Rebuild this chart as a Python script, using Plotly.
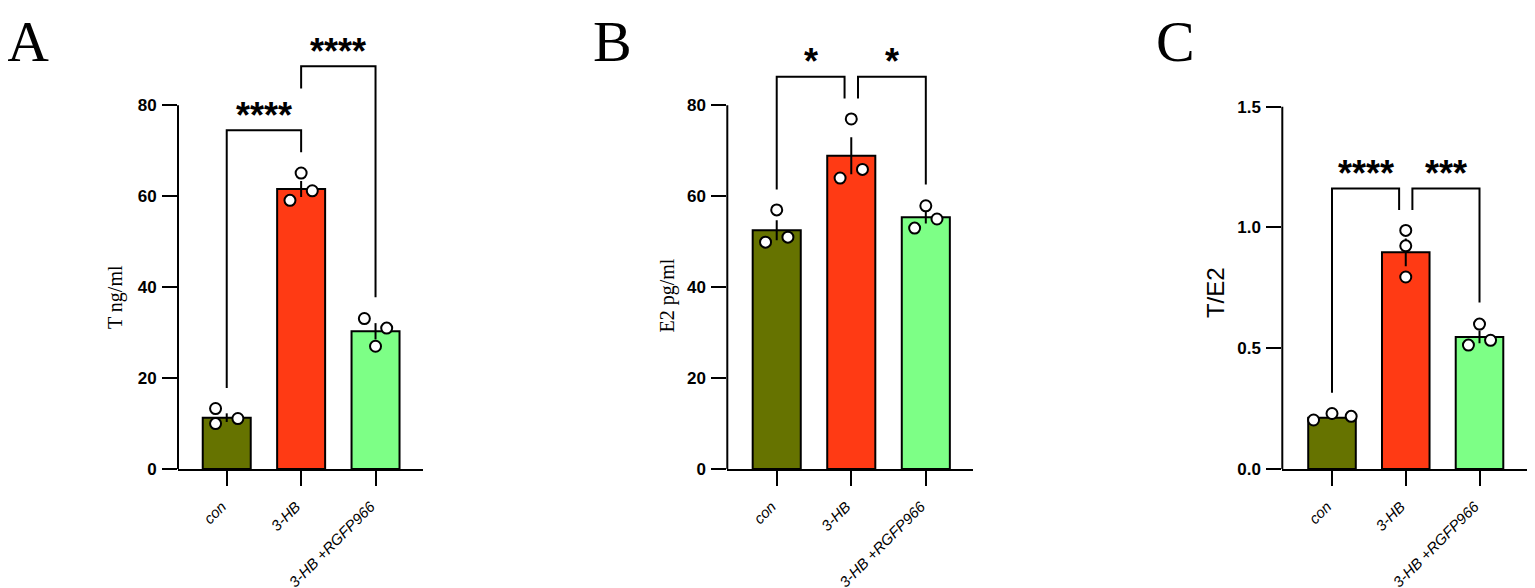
import plotly.graph_objects as go

# the page body shifts the figure 8 px to the right; compensate horizontally
XOFF = 8
W, H = 1535 - XOFF, 588

# ---------------- data ----------------
groups = ["con", "3-HB", "3-HB +RGFP966"]
bar_colors = ["#667300", "#FF3A14", "#7DFF86"]

# Panel A : T ng/ml
a_means = [11.3, 61.6, 30.3]
a_sem = [0.95, 1.76, 1.79]
a_points = [[13.3, 10.0, 11.1], [65.1, 59.1, 61.2], [33.1, 27.0, 31.0]]
a_brackets = [([0, 0, 1, 1], [17.8, 74.5, 74.5, 69.7], "****"),
              ([1, 1, 2, 2], [83.7, 88.6, 88.6, 37.8], "****")]
a_ticks = [0, 20, 40, 60, 80]

# Panel B : E2 pg/ml
b_means = [52.5, 68.9, 55.4]
b_sem = [2.2, 4.05, 1.42]
b_points = [[57.0, 49.9, 51.0], [77.0, 64.0, 65.9], [57.9, 53.0, 55.0]]
b_brackets = [([0, 0, 0.91, 0.91], [61.5, 86.3, 86.3, 81.5], "*"),
              ([1.09, 1.09, 2, 2], [81.5, 86.3, 86.3, 62.6], "*")]
b_ticks = [0, 20, 40, 60, 80]

# Panel C : T/E2
c_means = [0.212, 0.897, 0.547]
c_sem = [0.008, 0.057, 0.026]
c_points = [[0.203, 0.230, 0.218], [0.988, 0.924, 0.795], [0.600, 0.513, 0.533]]
c_brackets = [([0, 0, 0.91, 0.91], [0.316, 1.161, 1.161, 1.072], "****"),
              ([1.09, 1.09, 2, 2], [1.072, 1.161, 1.161, 0.689], "***")]
c_ticks = [0.0, 0.5, 1.0, 1.5]
c_ticktext = ["0.0", "0.5", "1.0", "1.5"]

# horizontal jitter of the dots (layout only)
a_jit = [[-0.15, -0.15, 0.15], [0.0, -0.15, 0.15], [-0.15, 0.0, 0.15]]
b_jit = [[0.0, -0.15, 0.15], [0.0, -0.15, 0.15], [0.0, -0.15, 0.15]]
c_jit = [[-0.25, 0.0, 0.26], [0.0, 0.0, 0.0], [0.0, -0.15, 0.15]]


def px_x(p):
    return (p - XOFF) / W


def px_y(p):
    return 1 - p / H


panels = [
    dict(means=a_means, sem=a_sem, pts=a_points, jit=a_jit, br=a_brackets,
         ticks=a_ticks, ticktext=[str(t) for t in a_ticks], yr=[0, 96.0],
         xdom=[178, 423], xr=[-0.655, 2.638], title="T ng/ml", tfont="serif",
         tx=115, ty=294, tsize=20, letter="A", lx=28),
    dict(means=b_means, sem=b_sem, pts=b_points, jit=b_jit, br=b_brackets,
         ticks=b_ticks, ticktext=[str(t) for t in b_ticks], yr=[0, 96.0],
         xdom=[727.3, 973], xr=[-0.663, 2.633], title="E2 pg/ml", tfont="serif",
         tx=667.5, ty=293, tsize=20, letter="B", lx=612),
    dict(means=c_means, sem=c_sem, pts=c_points, jit=c_jit, br=c_brackets,
         ticks=c_ticks, ticktext=c_ticktext, yr=[0, 1.807],
         xdom=[1282.3, 1527], xr=[-0.674, 2.644], title="T/E2", tfont="sans",
         tx=1215, ty=290, tsize=24, letter="C", lx=1175),
]

SANS = "Arial, Liberation Sans, sans-serif"
SERIF = "Times New Roman, Liberation Serif, serif"

fig = go.Figure()
layout = dict(
    width=W, height=H, margin=dict(l=0, r=0, t=0, b=0),
    paper_bgcolor="white", plot_bgcolor="white", showlegend=False,
    shapes=[], annotations=[],
)

ydom = [px_y(469), px_y(25)]

for i, p in enumerate(panels):
    k = "" if i == 0 else str(i + 1)
    xa, ya = "x" + k, "y" + k
    xs = list(range(len(groups)))
    fig.add_trace(go.Bar(
        x=xs, y=p["means"], width=0.645, xaxis=xa, yaxis=ya,
        marker=dict(color=bar_colors, line=dict(color="black", width=2)),
        error_y=dict(type="data", array=p["sem"], visible=True, color="black",
                     thickness=2, width=0),
        hoverinfo="skip",
    ))
    dx, dy = [], []
    for g, (vals, jit) in enumerate(zip(p["pts"], p["jit"])):
        for v, j in zip(vals, jit):
            dx.append(g + j)
            dy.append(v)
    fig.add_trace(go.Scatter(
        x=dx, y=dy, mode="markers", xaxis=xa, yaxis=ya,
        marker=dict(symbol="circle", size=11, color="white",
                    line=dict(color="black", width=2)),
        cliponaxis=False, hoverinfo="skip",
    ))
    for bx, by, label in p["br"]:
        fig.add_trace(go.Scatter(
            x=bx, y=by, mode="lines", xaxis=xa, yaxis=ya,
            line=dict(color="black", width=2), hoverinfo="skip",
        ))
        layout["annotations"].append(dict(
            x=(bx[1] + bx[2]) / 2, y=by[1], xref=xa, yref=ya, text=label,
            showarrow=False, yanchor="middle", yshift=15,
            font=dict(family=SANS, size=36, color="black", weight="bold"),
        ))
    # y axis line from 0 to top tick
    layout["shapes"].append(dict(
        type="line", xref=xa + " domain", yref=ya, x0=0, x1=0,
        y0=0, y1=p["ticks"][-1], line=dict(color="black", width=2),
    ))
    layout["xaxis" + k] = dict(
        domain=[px_x(p["xdom"][0]), px_x(p["xdom"][1])], anchor=ya,
        range=p["xr"], tickvals=xs, ticktext=groups, tickangle=-45,
        ticks="outside", ticklen=15, tickwidth=2, tickcolor="black",
        showline=True, linecolor="black", linewidth=2, showgrid=False,
        zeroline=False, ticklabelshift=-5, ticklabelstandoff=6,
        tickfont=dict(family=SANS, size=15, color="black", style="italic"),
    )
    layout["yaxis" + k] = dict(
        domain=ydom, anchor=xa, range=p["yr"], tickvals=p["ticks"],
        ticktext=p["ticktext"], ticks="outside", ticklen=15, tickwidth=2,
        tickcolor="black", showline=False, showgrid=False, zeroline=False,
        ticklabelstandoff=2,
        tickfont=dict(family=SANS, size=17, color="black", weight="bold"),
    )
    layout["annotations"].append(dict(
        x=px_x(p["tx"]), y=px_y(p["ty"]), xref="paper", yref="paper",
        text=p["title"], textangle=-90, showarrow=False,
        xanchor="center", yanchor="middle",
        font=dict(family=SERIF if p["tfont"] == "serif" else SANS,
                  size=p["tsize"], color="black"),
    ))
    layout["annotations"].append(dict(
        x=px_x(p["lx"]), y=1, xref="paper", yref="paper", borderpad=0,
        text=p["letter"], showarrow=False, xanchor="center", yanchor="top",
        font=dict(family=SERIF, size=58, color="black"),
    ))

fig.update_layout(**layout)
fig.write_html("out.html")
